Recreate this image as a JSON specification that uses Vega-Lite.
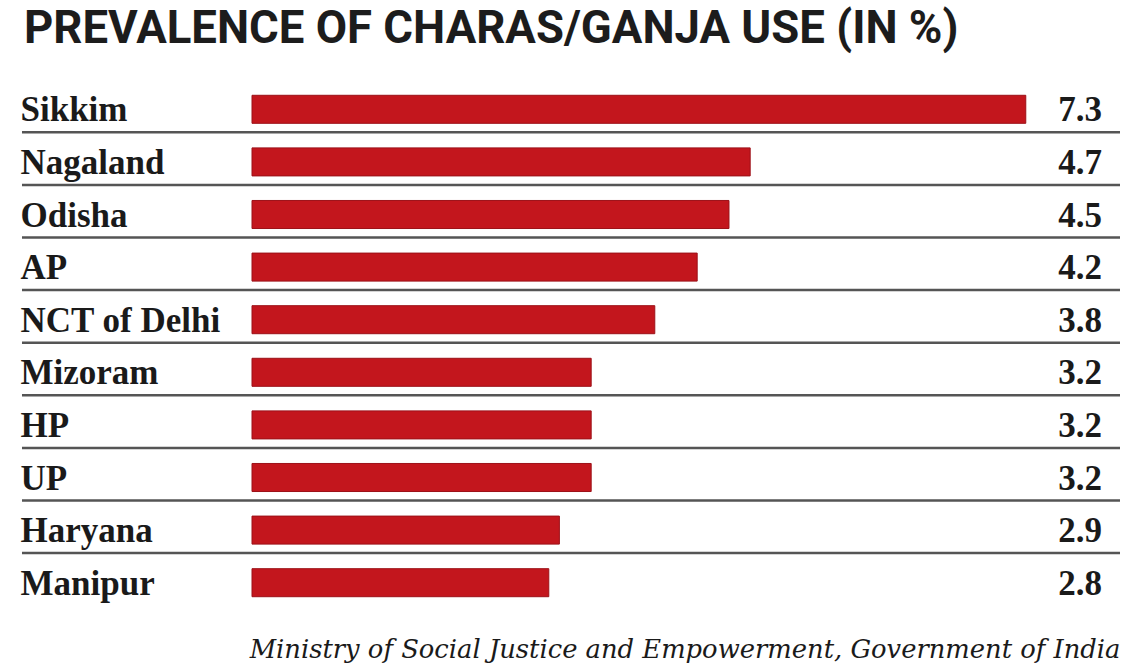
{
  "$schema": "https://vega.github.io/schema/vega-lite/v6.json",
  "autosize": "none",
  "width": 868,
  "height": 526,
  "padding": {"left": 252, "top": 83, "right": 22, "bottom": 61},
  "background": "white",
  "view": {"stroke": null},
  "title": {
    "text": "PREVALENCE OF CHARAS/GANJA USE (IN %)",
    "anchor": "start",
    "frame": "group",
    "font": "Roboto",
    "fontWeight": "bold",
    "fontSize": 45.5,
    "color": "#1c1c1c",
    "baseline": "alphabetic",
    "dx": -228,
    "offset": -5
  },
  "data": {
    "values": [
      {"state": "Sikkim", "value": 7.3},
      {"state": "Nagaland", "value": 4.7},
      {"state": "Odisha", "value": 4.5},
      {"state": "AP", "value": 4.2},
      {"state": "NCT of Delhi", "value": 3.8},
      {"state": "Mizoram", "value": 3.2},
      {"state": "HP", "value": 3.2},
      {"state": "UP", "value": 3.2},
      {"state": "Haryana", "value": 2.9},
      {"state": "Manipur", "value": 2.8}
    ]
  },
  "encoding": {
    "y": {
      "field": "state",
      "type": "nominal",
      "sort": null,
      "scale": {"paddingInner": 0.467, "paddingOuter": 0.2335},
      "axis": {
        "title": null,
        "ticks": false,
        "domain": false,
        "grid": false,
        "labelAlign": "left",
        "labelBaseline": "middle",
        "labelPadding": 232,
        "labelLimit": 400,
        "labelFont": "Liberation Serif",
        "labelFontWeight": "bold",
        "labelFontSize": 35,
        "labelColor": "#1a1a1a",
        "labelOffset": 1
      }
    }
  },
  "layer": [
    {
      "mark": {"type": "bar", "color": "#c3161d", "stroke": "#9c1118", "strokeWidth": 1},
      "encoding": {
        "x": {
          "field": "value",
          "type": "quantitative",
          "scale": {"domain": [0, 8.189], "nice": false, "zero": false},
          "axis": {
            "labels": false,
            "ticks": false,
            "domain": false,
            "grid": false,
            "title": "Ministry of Social Justice and Empowerment, Government of India",
            "titleAnchor": "end",
            "titleAlign": "right",
            "titleBaseline": "top",
            "titlePadding": 28,
            "titleFont": "DejaVu Serif",
            "titleFontStyle": "italic",
            "titleFontWeight": "normal",
            "titleFontSize": 25.8,
            "titleColor": "#1a1a1a"
          }
        },
        "x2": {"datum": 0}
      }
    },
    {
      "transform": [{"filter": "datum.state != 'Manipur'"}],
      "mark": {"type": "rule", "color": "#555555", "strokeWidth": 2.5, "yOffset": 23},
      "encoding": {
        "x": {"datum": -2.17, "type": "quantitative"},
        "x2": {"datum": 8.189}
      }
    },
    {
      "mark": {
        "type": "text",
        "align": "right",
        "baseline": "middle",
        "font": "Liberation Serif",
        "fontWeight": "bold",
        "fontSize": 35,
        "color": "#1a1a1a",
        "dy": 1
      },
      "encoding": {
        "x": {"datum": 8.019, "type": "quantitative"},
        "text": {"field": "value", "type": "quantitative", "format": ".1f"}
      }
    }
  ]
}
